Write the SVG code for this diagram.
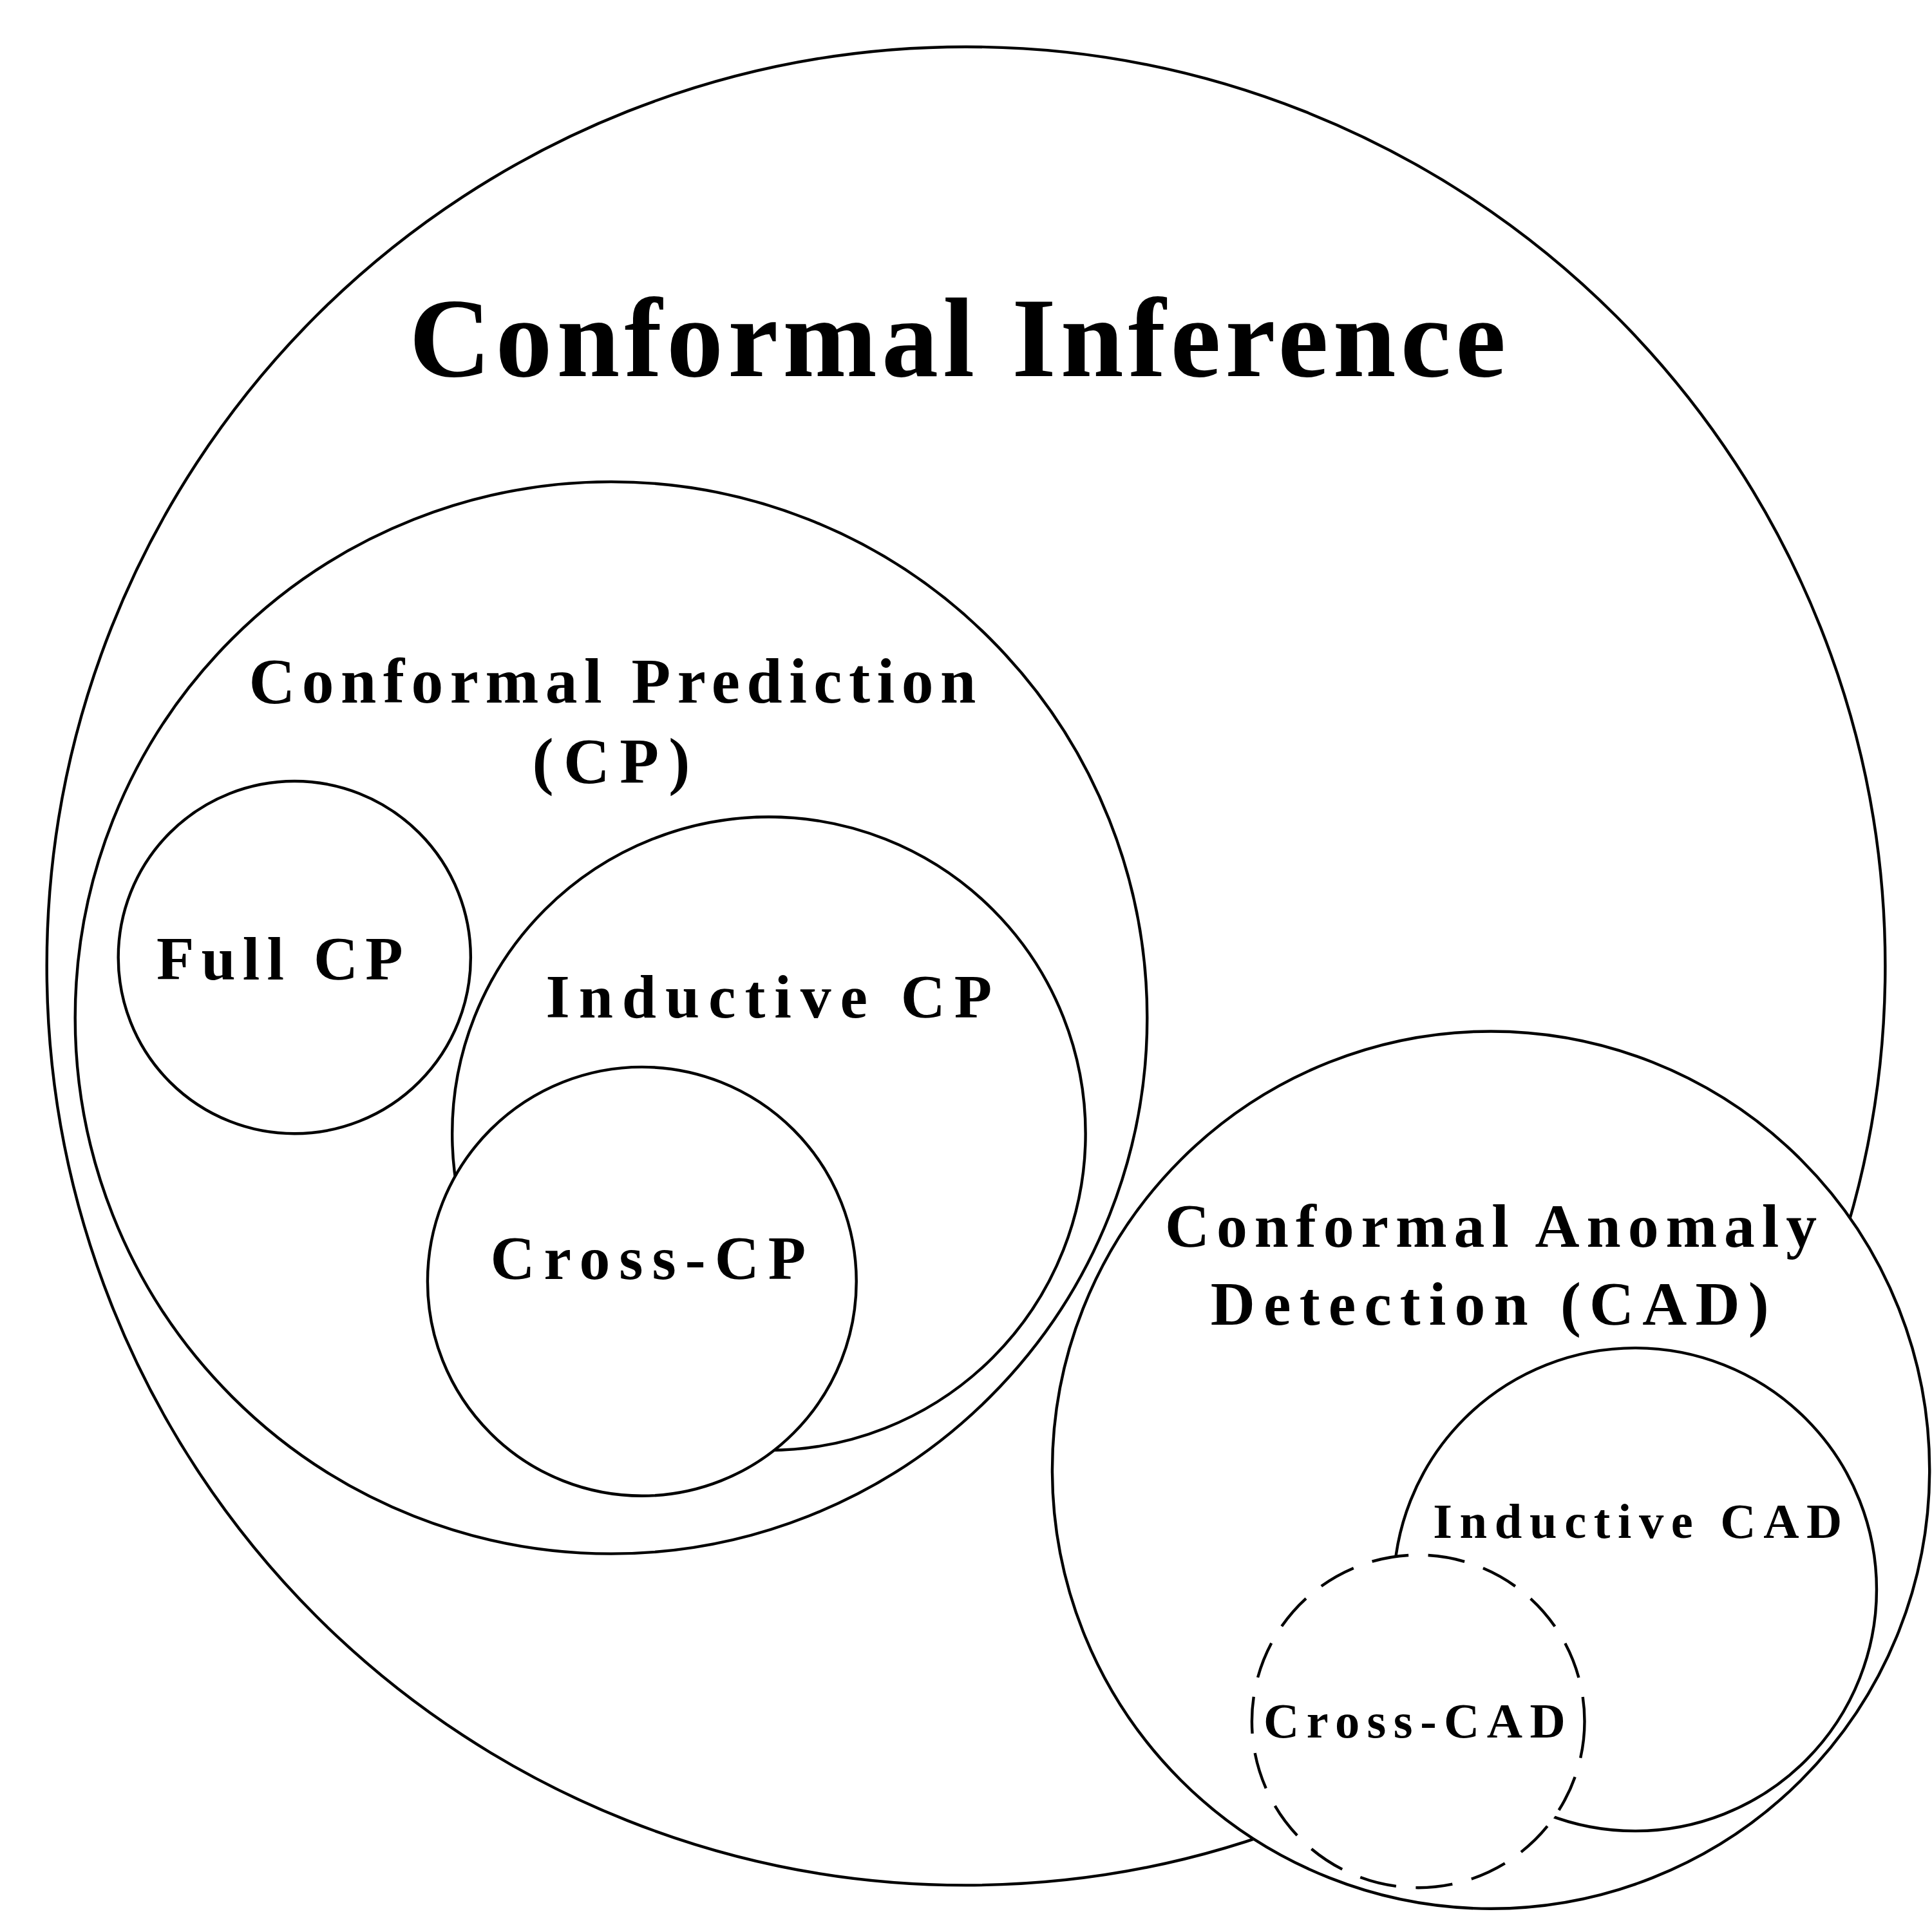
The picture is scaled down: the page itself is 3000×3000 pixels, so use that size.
<svg xmlns="http://www.w3.org/2000/svg" width="3000" height="3000" viewBox="0 0 3000 3000">
<style>
circle{fill:#fff;stroke:#000;stroke-width:2.3}
text{font-family:"Liberation Serif","DejaVu Serif",serif;font-weight:bold;text-anchor:middle;fill:#000}
</style>
<rect width="3000" height="3000" fill="#fff"/>
<g transform="scale(1.9133)">
<g id="ci"><circle cx="784" cy="784" r="746"/><text x="777" y="305" font-size="92" textLength="890" lengthAdjust="spacing">Conformal Inference</text></g>
<g id="cp"><circle cx="496" cy="826" r="435"/><text x="497" y="570" font-size="52" textLength="590" lengthAdjust="spacing">Conformal Prediction</text><text x="496" y="635" font-size="52" textLength="128" lengthAdjust="spacing">(CP)</text></g>
<g id="fullcp"><circle cx="239" cy="777" r="143"/><text x="227" y="795" font-size="50" textLength="200" lengthAdjust="spacing">Full CP</text></g>
<g id="indcp"><circle cx="624" cy="920" r="257"/><text x="624" y="826" font-size="50" textLength="362" lengthAdjust="spacing">Inductive CP</text></g>
<g id="crosscp"><circle cx="521" cy="1040" r="174"/><text x="526" y="1038" font-size="50" textLength="256" lengthAdjust="spacing">Cross-CP</text></g>
<g id="cad"><circle cx="1210" cy="1193" r="356"/><text x="1210" y="1012" font-size="50" textLength="529" lengthAdjust="spacing">Conformal Anomaly</text><text x="1209" y="1075" font-size="50" textLength="453" lengthAdjust="spacing">Detection (CAD)</text></g>
<g id="indcad"><circle cx="1327" cy="1290" r="196"/><text x="1329" y="1248" font-size="40" textLength="332" lengthAdjust="spacing">Inductive CAD</text></g>
<g id="crosscad"><circle cx="1151" cy="1397" r="135" stroke-dasharray="30 16"/><text x="1148" y="1410" font-size="40" textLength="245" lengthAdjust="spacing">Cross-CAD</text></g>
<g id="connectors"/>
</g>
</svg>
